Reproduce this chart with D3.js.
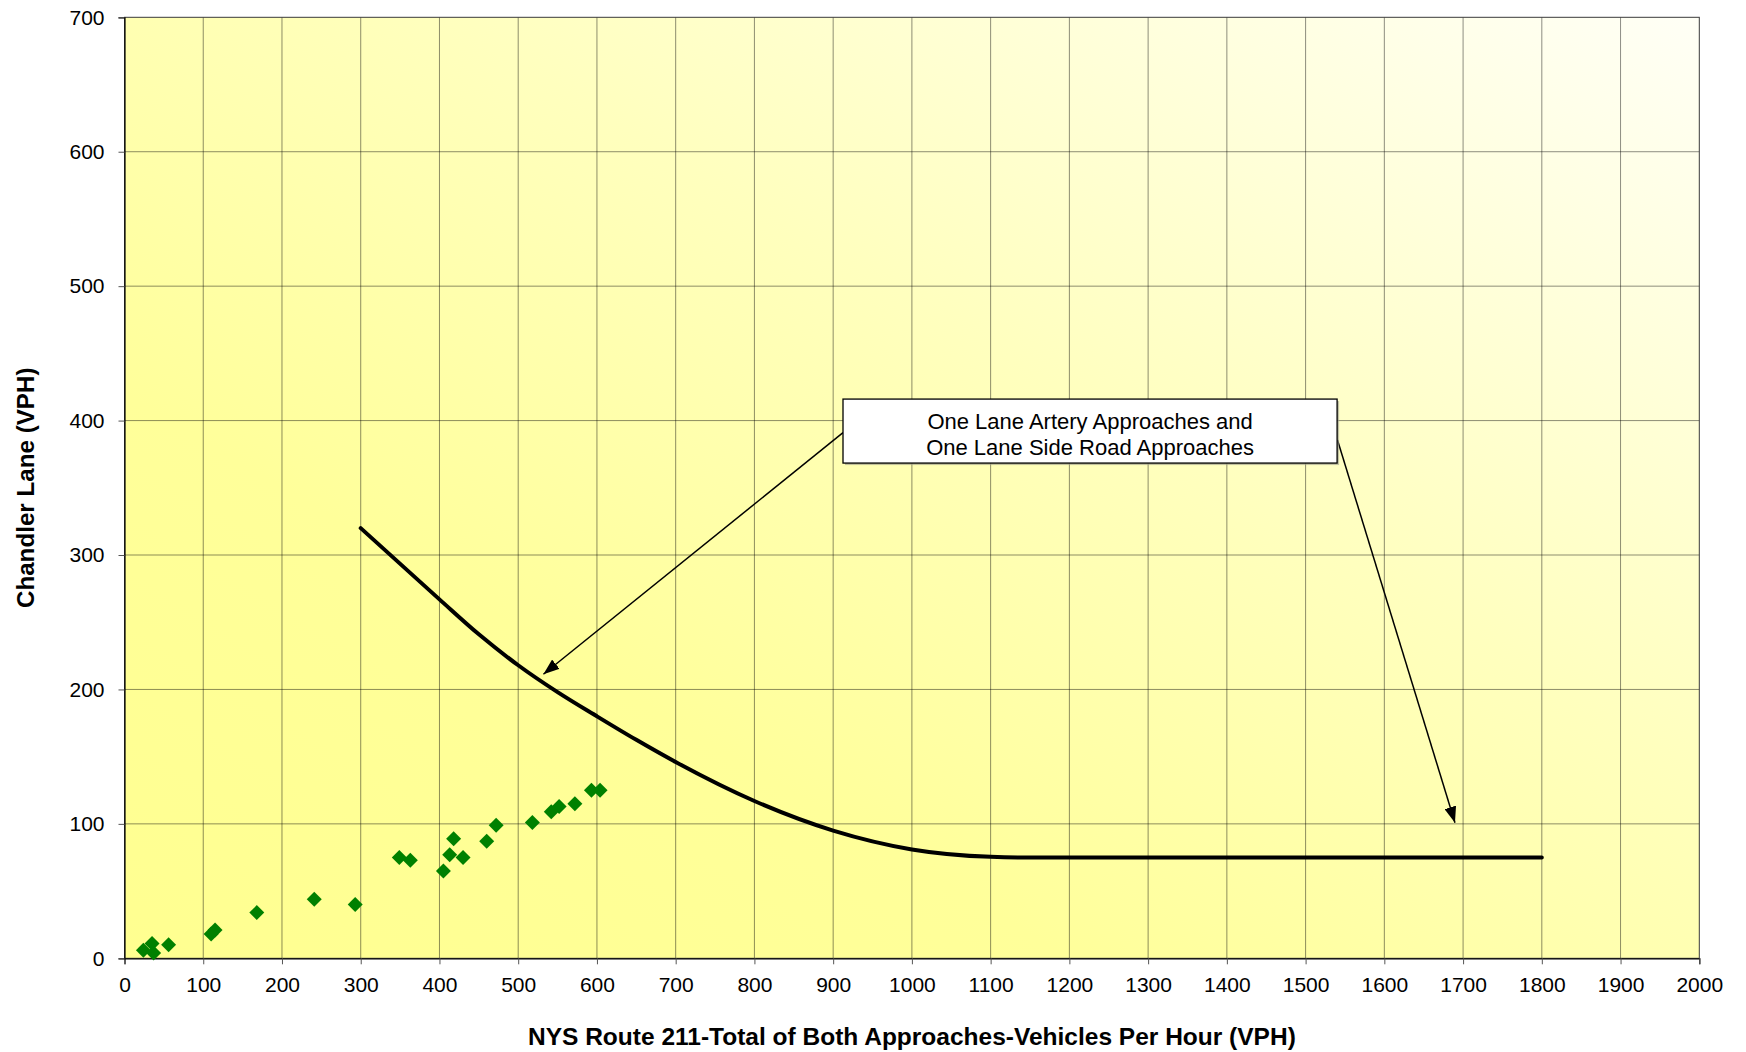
<!DOCTYPE html>
<html>
<head>
<meta charset="utf-8">
<script src="https://cdn.jsdelivr.net/npm/d3@7"></script>
<style>
  html, body { margin: 0; padding: 0; background: #fff; }
  svg { display: block; font-family: "Liberation Sans", Arial, sans-serif; }
</style>
</head>
<body>
<svg id="chart" width="1746" height="1052"></svg>
<script>
// Axis tick values
const xTickValues = d3.range(0, 2001, 100);
const yTickValues = d3.range(0, 701, 100);

// Warrant threshold curve (major-street total vs. minor-street volume)
const curveMajor = [300, 400, 450, 500, 550, 600, 650, 700, 800, 900, 1000, 1100, 1150, 1800];
const curveMinor = [320, 267, 241, 218, 198, 180, 162.5, 146, 117, 95, 81, 75.5, 75, 75];

// Observed hourly counts
const obsMajor = [24, 35, 37, 56, 110, 115, 168, 241, 293, 349, 363, 405, 413, 418, 430, 460, 472, 518, 542, 552, 572, 593, 604];
const obsMinor = [6, 11, 4, 10, 18, 21, 34, 44, 40, 75, 73, 65, 77, 89, 75, 87, 99, 101, 109, 113, 115, 125, 125];

// Callout text and geometry (data units)
const calloutLines = ["One Lane Artery Approaches and", "One Lane Side Road Approaches"];
const calloutBox = { x0: 912.5, x1: 1540, y0: 416, y1: 368.4 };
const calloutArrows = [
  { from: [912.5, 391], to: [532, 211.3] },
  { from: [1540.5, 385.6], to: [1689.7, 100.9] }
];

const xTitle = "NYS Route 211-Total of Both Approaches-Vehicles Per Hour (VPH)";
const yTitle = "Chandler Lane (VPH)";

const svg = d3.select("#chart");
const L = 124.5, R = 1699.3, T = 17.3, B = 958.3;

const x = d3.scaleLinear().domain([0, 2000]).range([L, R]);
const y = d3.scaleLinear().domain([0, 700]).range([B, T]);

// Plot area fill: diagonal yellow gradient
const defs = svg.append("defs");
const grad = defs.append("linearGradient")
  .attr("id", "bgGrad")
  .attr("x1", 0).attr("y1", 1).attr("x2", 1).attr("y2", 0);
grad.append("stop").attr("offset", 0).attr("stop-color", "#FFFF90");
grad.append("stop").attr("offset", 0.3).attr("stop-color", "#FFFF9A");
grad.append("stop").attr("offset", 0.6).attr("stop-color", "#FFFFBE");
grad.append("stop").attr("offset", 1).attr("stop-color", "#FFFFF6");

defs.append("marker")
  .attr("id", "arrowHead")
  .attr("markerUnits", "userSpaceOnUse")
  .attr("viewBox", "0 0 16 12")
  .attr("refX", 16).attr("refY", 6)
  .attr("markerWidth", 16).attr("markerHeight", 12)
  .attr("orient", "auto")
  .append("path")
  .attr("d", "M0,0 L16,6 L0,12 Z")
  .attr("fill", "#000");

svg.append("rect")
  .attr("x", L).attr("y", T)
  .attr("width", R - L).attr("height", B - T)
  .attr("fill", "url(#bgGrad)");

// Gridlines
const grid = svg.append("g").attr("stroke", "#000").attr("stroke-opacity", 0.45).attr("stroke-width", 1);
grid.selectAll("line.v")
  .data(xTickValues.filter(v => v > 0 && v < 2000))
  .join("line")
  .attr("x1", d => x(d)).attr("x2", d => x(d))
  .attr("y1", T).attr("y2", B);
grid.selectAll("line.h")
  .data(yTickValues.filter(v => v > 0 && v < 700))
  .join("line")
  .attr("x1", L).attr("x2", R)
  .attr("y1", d => y(d)).attr("y2", d => y(d));

// Plot border
svg.append("rect")
  .attr("x", L).attr("y", T)
  .attr("width", R - L).attr("height", B - T)
  .attr("fill", "none").attr("stroke", "#3a3a3a").attr("stroke-width", 1);

// Axes
const xAxis = d3.axisBottom(x).tickValues(xTickValues).tickSize(6).tickPadding(13).tickFormat(d3.format("d"));
const yAxis = d3.axisLeft(y).tickValues(yTickValues).tickSize(6).tickPadding(14).tickFormat(d3.format("d"));

const gx = svg.append("g").attr("transform", `translate(0,${B})`).call(xAxis);
const gy = svg.append("g").attr("transform", `translate(${L},0)`).call(yAxis);
[gx, gy].forEach(g => {
  g.select(".domain").attr("stroke", "#000").attr("stroke-width", 1.2);
  g.selectAll(".tick line").attr("stroke", "#555");
  g.selectAll(".tick text")
    .attr("font-family", "Liberation Sans, Arial, sans-serif")
    .attr("font-size", 21).attr("fill", "#000");
});

// Threshold curve
const curvePts = curveMajor.map((v, i) => [v, curveMinor[i]]);
svg.append("path")
  .datum(curvePts)
  .attr("fill", "none")
  .attr("stroke", "#000")
  .attr("stroke-width", 4)
  .attr("stroke-linecap", "round")
  .attr("stroke-linejoin", "round")
  .attr("d", d3.line().x(d => x(d[0])).y(d => y(d[1])).curve(d3.curveMonotoneX));

// Observed points as square diamonds
const diamond = d3.symbol().type(d3.symbolSquare).size(112);
svg.append("g")
  .selectAll("path")
  .data(obsMajor.map((v, i) => [v, obsMinor[i]]))
  .join("path")
  .attr("d", diamond)
  .attr("transform", d => `translate(${x(d[0])},${y(d[1])}) rotate(45)`)
  .attr("fill", "#008000");

// Callout arrows
svg.append("g")
  .selectAll("line")
  .data(calloutArrows)
  .join("line")
  .attr("x1", d => x(d.from[0])).attr("y1", d => y(d.from[1]))
  .attr("x2", d => x(d.to[0])).attr("y2", d => y(d.to[1]))
  .attr("stroke", "#000").attr("stroke-width", 1.5)
  .attr("marker-end", "url(#arrowHead)");

// Callout box
const bx0 = x(calloutBox.x0), bx1 = x(calloutBox.x1);
const by0 = y(calloutBox.y0), by1 = y(calloutBox.y1);
svg.append("rect")
  .attr("x", bx0 + 2).attr("y", by0 + 2)
  .attr("width", bx1 - bx0).attr("height", by1 - by0)
  .attr("fill", "#9a9a8a").attr("opacity", 0.6);
svg.append("rect")
  .attr("x", bx0).attr("y", by0)
  .attr("width", bx1 - bx0).attr("height", by1 - by0)
  .attr("fill", "#fff").attr("stroke", "#000").attr("stroke-width", 1.3);
svg.append("text")
  .attr("text-anchor", "middle")
  .attr("font-size", 22)
  .attr("fill", "#000")
  .selectAll("tspan")
  .data(calloutLines)
  .join("tspan")
  .attr("x", (bx0 + bx1) / 2)
  .attr("y", (d, i) => by0 + 29.5 + i * 26.6)
  .text(d => d);

// Axis titles
svg.append("text")
  .attr("x", (L + R) / 2).attr("y", 1045)
  .attr("text-anchor", "middle")
  .attr("font-size", 24.5).attr("font-weight", "bold")
  .text(xTitle);
svg.append("text")
  .attr("transform", `translate(34,${(T + B) / 2}) rotate(-90)`)
  .attr("text-anchor", "middle")
  .attr("font-size", 24.2).attr("font-weight", "bold")
  .text(yTitle);
</script>
</body>
</html>
